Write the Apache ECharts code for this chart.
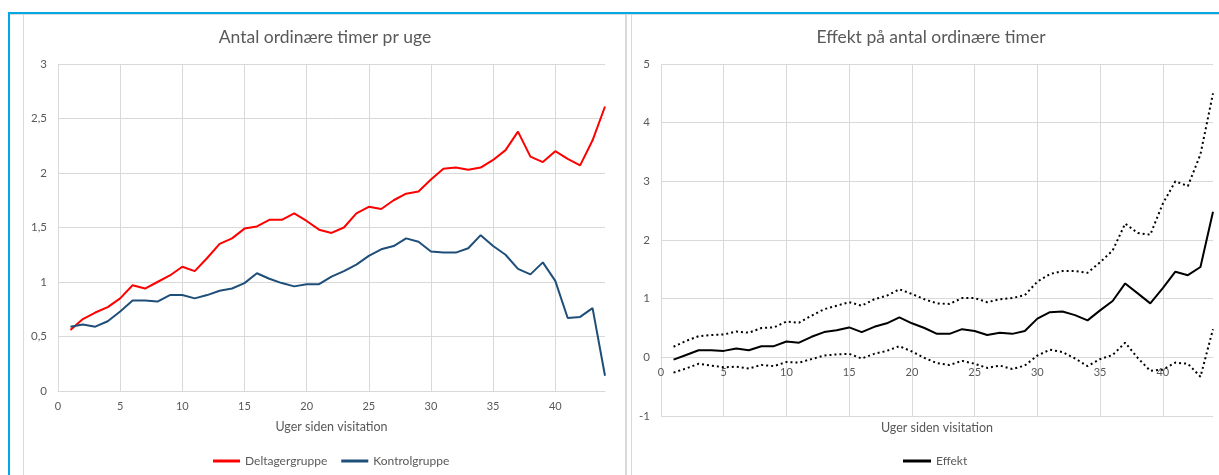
<!DOCTYPE html>
<html><head><meta charset="utf-8">
<script src="https://cdn.jsdelivr.net/npm/echarts@6/dist/echarts.min.js"></script>
<style>html,body{margin:0;padding:0;background:#fff}#c{width:1219px;height:475px}</style>
</head><body><div id="c"></div>
<script>
// ---- Data ----
const weeks = [1,2,3,4,5,6,7,8,9,10,11,12,13,14,15,16,17,18,19,20,21,22,23,24,25,26,27,28,29,30,31,32,33,34,35,36,37,38,39,40,41,42,43,44];
const deltagergruppe = [0.56,0.66,0.72,0.77,0.85,0.97,0.94,1.00,1.06,1.14,1.10,1.22,1.35,1.40,1.49,1.51,1.57,1.57,1.63,1.56,1.48,1.45,1.50,1.63,1.69,1.67,1.75,1.81,1.83,1.94,2.04,2.05,2.03,2.05,2.12,2.21,2.38,2.15,2.10,2.20,2.13,2.07,2.30,2.61];
const kontrolgruppe = [0.59,0.61,0.59,0.64,0.73,0.83,0.83,0.82,0.88,0.88,0.85,0.88,0.92,0.94,0.99,1.08,1.03,0.99,0.96,0.98,0.98,1.05,1.10,1.16,1.24,1.30,1.33,1.40,1.37,1.28,1.27,1.27,1.31,1.43,1.33,1.25,1.12,1.07,1.18,1.01,0.67,0.68,0.76,0.14];
const effekt = [-0.04,0.04,0.12,0.12,0.11,0.15,0.12,0.19,0.19,0.27,0.25,0.35,0.43,0.46,0.51,0.43,0.52,0.58,0.68,0.58,0.50,0.40,0.40,0.48,0.45,0.38,0.42,0.40,0.45,0.66,0.77,0.78,0.72,0.63,0.80,0.96,1.26,1.09,0.92,1.18,1.46,1.40,1.54,2.48];
const effektUpper = [0.18,0.28,0.36,0.38,0.39,0.44,0.42,0.50,0.51,0.61,0.59,0.71,0.82,0.88,0.94,0.88,0.99,1.05,1.16,1.08,0.99,0.92,0.91,1.01,1.01,0.94,0.99,1.01,1.06,1.29,1.42,1.47,1.47,1.44,1.62,1.82,2.28,2.12,2.09,2.62,3.00,2.92,3.46,4.50];
const effektLower = [-0.26,-0.19,-0.11,-0.14,-0.17,-0.16,-0.19,-0.13,-0.15,-0.08,-0.09,-0.03,0.03,0.05,0.06,-0.02,0.06,0.11,0.19,0.10,-0.01,-0.10,-0.13,-0.06,-0.11,-0.18,-0.14,-0.20,-0.14,0.03,0.13,0.09,-0.02,-0.15,-0.03,0.04,0.25,-0.01,-0.23,-0.21,-0.09,-0.11,-0.33,0.48];

const titleLeft = 'Antal ordinære timer pr uge';
const titleRight = 'Effekt på antal ordinære timer';
const xAxisName = 'Uger siden visitation';

const pairs = (ys) => weeks.map((w, i) => [w, ys[i]]);

const FONT = 'Lato';
const TXT = '#595959';
const GRID = '#d9d9d9';

// plot boxes (layout only)
const G1 = {left: 58, top: 64, width: 547, height: 327};
const G2 = {left: 661, top: 64, width: 552, height: 352};
const Y2 = {min: -1, max: 5};

const chart = echarts.init(document.getElementById('c'), null, {renderer: 'canvas'});

function xAx(gridIndex, offset, nameGap) {
  return {
    type: 'value', gridIndex, min: 0, max: 44, interval: 5, offset,
    name: xAxisName, nameLocation: 'middle', nameGap,
    nameTextStyle: {color: TXT, fontFamily: FONT, fontSize: 12.5},
    axisLine: {show: true, onZero: false, lineStyle: {color: GRID, width: 1}},
    axisTick: {show: false},
    axisLabel: {color: TXT, fontFamily: FONT, fontSize: 11, margin: 10,
      formatter: v => (v % 5 === 0 ? String(v) : '')},
    splitLine: {show: true, showMaxLine: false, lineStyle: {color: GRID, width: 1}}
  };
}
function yAx(gridIndex, min, max, interval) {
  return {
    type: 'value', gridIndex, min, max, interval,
    axisLine: {show: false}, axisTick: {show: false},
    axisLabel: {color: TXT, fontFamily: FONT, fontSize: 11.5, margin: 11,
      formatter: v => String(v).replace('.', ',')},
    splitLine: {show: true, lineStyle: {color: GRID, width: 1}}
  };
}

// right x axis crosses the y axis at 0 (as in the original)
const zeroOffset = -(0 - Y2.min) / (Y2.max - Y2.min) * G2.height;

const option = {
  animation: false,
  backgroundColor: '#ffffff',
  textStyle: {fontFamily: FONT},
  title: [
    {text: titleLeft, left: 325, top: 28, textAlign: 'center', padding: 0,
     textStyle: {color: TXT, fontFamily: FONT, fontSize: 17.5, fontWeight: 'normal'}},
    {text: titleRight, left: 931, top: 28, textAlign: 'center', padding: 0,
     textStyle: {color: TXT, fontFamily: FONT, fontSize: 17.5, fontWeight: 'normal'}}
  ],
  grid: [
    Object.assign({containLabel: false, outerBoundsMode: 'none'}, G1),
    Object.assign({containLabel: false, outerBoundsMode: 'none'}, G2)
  ],
  xAxis: [xAx(0, 0, 29), xAx(1, zeroOffset, 64)],
  yAxis: [yAx(0, 0, 3, 0.5), yAx(1, Y2.min, Y2.max, 1)],
  legend: [
    {data: ['Deltagergruppe', 'Kontrolgruppe'], left: 213, top: 455, padding: 0, icon: 'rect',
     itemWidth: 27, itemHeight: 3, itemGap: 14,
     textStyle: {color: TXT, fontFamily: FONT, fontSize: 12}},
    {data: ['Effekt'], left: 903, top: 455, padding: 0, icon: 'rect',
     itemWidth: 28, itemHeight: 3,
     textStyle: {color: TXT, fontFamily: FONT, fontSize: 12}}
  ],
  series: [
    {name: 'Deltagergruppe', type: 'line', xAxisIndex: 0, yAxisIndex: 0, data: pairs(deltagergruppe),
     showSymbol: false, symbol: 'none', itemStyle: {color: '#ff0000'}, lineStyle: {color: '#ff0000', width: 2}},
    {name: 'Kontrolgruppe', type: 'line', xAxisIndex: 0, yAxisIndex: 0, data: pairs(kontrolgruppe),
     showSymbol: false, symbol: 'none', itemStyle: {color: '#1f4e79'}, lineStyle: {color: '#1f4e79', width: 2}},
    {name: 'Effekt', type: 'line', xAxisIndex: 1, yAxisIndex: 1, data: pairs(effekt),
     showSymbol: false, symbol: 'none', itemStyle: {color: '#000000'}, lineStyle: {color: '#000000', width: 2}},
    {name: 'Øvre', type: 'line', xAxisIndex: 1, yAxisIndex: 1, data: pairs(effektUpper),
     showSymbol: false, symbol: 'none', itemStyle: {color: '#000000'}, lineStyle: {color: '#000000', width: 2, type: [2, 3]}},
    {name: 'Nedre', type: 'line', xAxisIndex: 1, yAxisIndex: 1, data: pairs(effektLower),
     showSymbol: false, symbol: 'none', itemStyle: {color: '#000000'}, lineStyle: {color: '#000000', width: 2, type: [2, 3]}}
  ],
  graphic: [
    {type: 'rect', silent: true, shape: {x: 8, y: 12, width: 1211, height: 2}, style: {fill: '#00a8e8'}},
    {type: 'rect', silent: true, shape: {x: 8, y: 12, width: 2, height: 463}, style: {fill: '#00a8e8'}},
    {type: 'rect', silent: true, shape: {x: 10, y: 14, width: 1209, height: 1}, style: {fill: GRID}},
    {type: 'rect', silent: true, shape: {x: 23, y: 14, width: 1, height: 461}, style: {fill: GRID}},
    {type: 'rect', silent: true, shape: {x: 625, y: 14, width: 2, height: 461}, style: {fill: GRID}},
    {type: 'rect', silent: true, shape: {x: 631, y: 14, width: 1, height: 461}, style: {fill: GRID}}
  ]
};
chart.setOption(option);
</script>
</body></html>
